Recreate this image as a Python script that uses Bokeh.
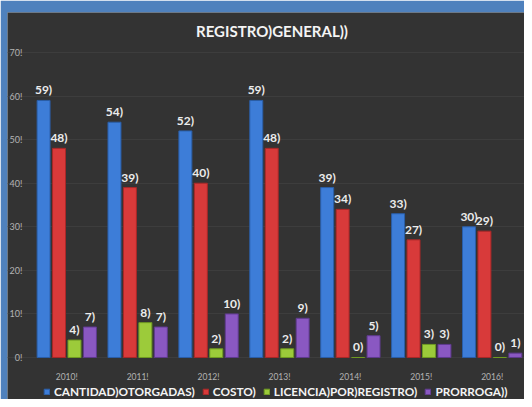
from bokeh.plotting import figure
from bokeh.models import (ColumnDataSource, Range1d, Legend, LegendItem, LabelSet, Label,
                          FixedTicker)
from bokeh.transform import dodge
from bokeh.core.properties import value
from bokeh.embed import file_html
from bokeh.resources import INLINE

years = ["2010!", "2011!", "2012!", "2013!", "2014!", "2015!", "2016!"]
cantidad = [59, 54, 52, 59, 39, 33, 30]
costo = [48, 39, 40, 48, 34, 27, 29]
licencia = [4, 8, 2, 2, 0, 3, 0]
prorroga = [7, 7, 10, 9, 5, 3, 1]
series_names = ["CANTIDAD)OTORGADAS)", "COSTO)", "LICENCIA)POR)REGISTRO)", "PRORROGA))"]
y_ticks = [0, 10, 20, 30, 40, 50, 60, 70]
y_tick_labels = ["0!", "10!", "20!", "30!", "40!", "50!", "60!", "70!"]
title_text = "REGISTRO)GENERAL))"

colors = ["#3d7dd8", "#d83a3a", "#9ccb3a", "#8a58c2"]
edges = ["#2a5ea8", "#a82828", "#6f9a22", "#5f3a8e"]
offsets = [-0.327, -0.109, 0.109, 0.327]
bar_w = 0.183
FONT = "Lato"

xi = list(range(len(years)))
data = dict(xi=xi, year=years)
keys = ["cantidad", "costo", "licencia", "prorroga"]
for k, vals in zip(keys, [cantidad, costo, licencia, prorroga]):
    data[k] = vals
    data[k + "_lbl"] = [f"{v})" for v in vals]
src = ColumnDataSource(data)

# frame spans the whole dark panel; the blue stripe is the border
x_range = Range1d(-0.8357, len(years) - 1 + 0.456)
y_range = Range1d(-9.64, 79.18)
p = figure(width=524, height=399, x_range=x_range, y_range=y_range, title=None,
           output_backend="svg", toolbar_location=None,
           min_border_left=7, min_border_right=0, min_border_top=12, min_border_bottom=0)
p.background_fill_color = "#333333"
p.border_fill_color = "#4f81bd"
p.outline_line_color = None

items = []
for k, name, c, e, off in zip(keys, series_names, colors, edges, offsets):
    r = p.vbar(x=dodge("xi", off), top=k, width=bar_w, source=src,
               fill_color=c, line_color=e, line_width=1)
    items.append(LegendItem(label=name, renderers=[r]))
    lbl = LabelSet(x=dodge("xi", off), y=k, text=k + "_lbl", source=src,
                   text_align="center", text_baseline="alphabetic", y_offset=6,
                   text_font=value(FONT), text_font_size="12px", text_font_style="bold",
                   text_color="#ececec")
    p.add_layout(lbl)

p.xaxis.ticker = FixedTicker(ticks=xi)
p.xaxis.major_label_overrides = {i: y for i, y in zip(xi, years)}
p.xaxis.fixed_location = 0
p.yaxis.ticker = FixedTicker(ticks=y_ticks)
p.yaxis.major_label_overrides = {t: l for t, l in zip(y_ticks, y_tick_labels)}
p.yaxis.fixed_location = -0.5
for ax in (p.xaxis, p.yaxis):
    ax.axis_line_color = None
    ax.major_tick_line_color = None
    ax.minor_tick_line_color = None
    ax.major_label_text_font = FONT
    ax.major_label_text_font_size = "8.5px"
    ax.major_label_text_color = "#b4b4b4"
p.yaxis.major_label_text_font_size = "9px"
p.yaxis.major_label_standoff = 3
p.xaxis.major_label_standoff = 9
p.xgrid.grid_line_color = None
p.ygrid.grid_line_color = "#3d3d3d"
p.ygrid.ticker = FixedTicker(ticks=y_ticks)

title = Label(x=(x_range.start + x_range.end) / 2, y=y_range.end, x_offset=6, y_offset=-18,
              text=title_text, text_align="center", text_baseline="middle",
              text_font=FONT, text_font_size="15px", text_font_style="bold",
              text_color="#f4f4f4")
p.add_layout(title)

legend = Legend(items=items, orientation="horizontal", location=(36, 0),
                glyph_width=7, glyph_height=7, label_standoff=4, spacing=7,
                label_text_font=FONT, label_text_font_size="11.8px", label_text_font_style="bold",
                label_text_color="#f4f4f4", label_height=9,
                background_fill_alpha=0, border_line_color=None, margin=0, padding=0)
p.add_layout(legend)

open("out.html", "w").write(file_html(p, INLINE))
